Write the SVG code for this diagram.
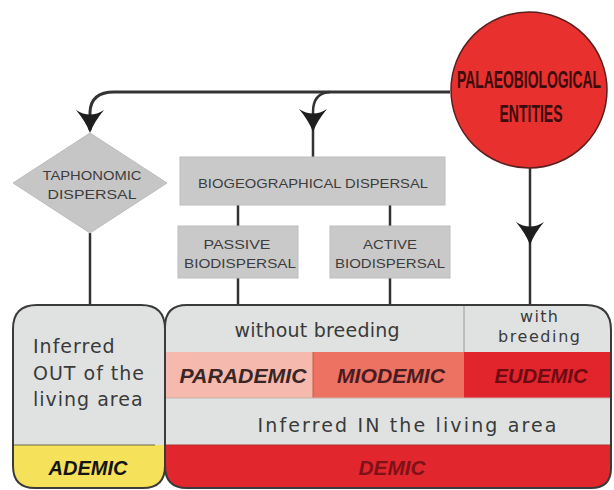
<svg xmlns="http://www.w3.org/2000/svg" width="614" height="490" viewBox="0 0 614 490">
<defs>
<path id="ah" d="M0,0 Q-4,-11 -14,-23 Q0,-14 14,-23 Q4,-11 0,0 Z" fill="#1e1e1e"/>
<clipPath id="clipL"><path d="M13,329 Q13,305 37,305 L141,305 Q165,305 165,329 L165,466 Q165,488 143,488 L35,488 Q13,488 13,466 Z"/></clipPath>
<clipPath id="clipR"><path d="M165,327 Q165,305 187,305 L586,305 Q611,305 611,330 L611,468 Q611,488 591,488 L187,488 Q165,488 165,466 Z"/></clipPath>
</defs>
<style>
.ln{stroke:#333;stroke-width:2.5;fill:none}
.gbox{fill:#c9c9c9;stroke:#bdbdbd;stroke-width:1}
.sm{font-family:"Liberation Sans",Arial,sans-serif;font-size:13px;fill:#3d3d3d;text-anchor:middle}
.bd{font-family:"DejaVu Sans","Liberation Sans",sans-serif;font-size:19px;fill:#3a3a3a}
.bi{font-family:"Liberation Sans",Arial,sans-serif;font-size:20px;font-weight:bold;font-style:italic;text-anchor:middle}
.sep{stroke:#9a9a9a;stroke-width:1}
</style>
<rect width="614" height="490" fill="#ffffff"/>

<g id="connectors">
<path class="ln" d="M450,92 L114,92 Q91,92 90,112 L90,130" style="stroke-width:3"/>
<path class="ln" d="M330,92 Q313,93 313,112 L313,157"/>
<path class="ln" d="M530,167 L530,305"/>
<path class="ln" d="M238,205 L238,226"/>
<path class="ln" d="M390,205 L390,226"/>
<path class="ln" d="M238,278 L238,305"/>
<path class="ln" d="M390,278 L390,305"/>
<path class="ln" d="M90,233 L90,305"/>
<use href="#ah" x="90" y="133"/>
<use href="#ah" x="313" y="132"/>
<use href="#ah" x="530" y="245"/>
</g>

<g id="palaeobiological">
<circle cx="529" cy="90" r="78" fill="#e8302f" stroke="#5a2020" stroke-width="1.5"/>
<text x="529" y="88" font-family="'Liberation Sans',Arial,sans-serif" font-size="23" font-weight="bold" fill="#3a0c0c" text-anchor="middle" textLength="144" lengthAdjust="spacingAndGlyphs">PALAEOBIOLOGICAL</text>
<text x="531" y="122" font-family="'Liberation Sans',Arial,sans-serif" font-size="24" font-weight="bold" fill="#3a0c0c" text-anchor="middle" textLength="63" lengthAdjust="spacingAndGlyphs">ENTITIES</text>
</g>

<g id="taphonomic">
<polygon points="90,133 167,183 90,233 13,183" fill="#c6c6c6" stroke="#bdbdbd"/>
<text class="sm" x="92" y="180" textLength="99" lengthAdjust="spacingAndGlyphs">TAPHONOMIC</text>
<text class="sm" x="92" y="199" textLength="89" lengthAdjust="spacingAndGlyphs">DISPERSAL</text>
</g>

<g id="biogeographical">
<rect class="gbox" x="180" y="157" width="265" height="48"/>
<text class="sm" x="313" y="188" textLength="230" lengthAdjust="spacingAndGlyphs">BIOGEOGRAPHICAL  DISPERSAL</text>
</g>

<g id="passive">
<rect class="gbox" x="178" y="226" width="120" height="52"/>
<text class="sm" x="237" y="249" textLength="67" lengthAdjust="spacingAndGlyphs">PASSIVE</text>
<text class="sm" x="240" y="268" textLength="112" lengthAdjust="spacingAndGlyphs">BIODISPERSAL</text>
</g>

<g id="active">
<rect class="gbox" x="330" y="226" width="120" height="52"/>
<text class="sm" x="390" y="249" textLength="54" lengthAdjust="spacingAndGlyphs">ACTIVE</text>
<text class="sm" x="390" y="268" textLength="110" lengthAdjust="spacingAndGlyphs">BIODISPERSAL</text>
</g>

<g id="out-area">
<g clip-path="url(#clipL)">
<rect x="13" y="305" width="152" height="183" fill="#dfe2e0"/>
<rect x="13" y="445" width="152" height="43" fill="#f6e15a"/>
<line x1="13" y1="445" x2="155" y2="445" stroke="#6b6a4a" stroke-width="1.2"/>
</g>
<path d="M13,329 Q13,305 37,305 L141,305 Q165,305 165,329 L165,466 Q165,488 143,488 L35,488 Q13,488 13,466 Z" fill="none" stroke="#3a3a3a" stroke-width="2"/>
<text class="bd" x="33" y="353" letter-spacing="1">Inferred</text>
<text class="bd" x="33" y="380" letter-spacing="1">OUT of the</text>
<text class="bd" x="33" y="406" letter-spacing="1">living area</text>
<text class="bi" x="88" y="475" fill="#141414">ADEMIC</text>
</g>

<g id="in-area">
<g clip-path="url(#clipR)">
<rect x="165" y="305" width="446" height="183" fill="#dfe2e0"/>
<rect x="165" y="352" width="148" height="46" fill="#f6b9ad"/>
<rect x="313" y="352" width="151" height="46" fill="#ee7262"/>
<rect x="464" y="352" width="147" height="46" fill="#e2252c"/>
<rect x="165" y="445" width="446" height="43" fill="#e2262d"/>
<line x1="464" y1="305" x2="464" y2="352" class="sep"/>
<line x1="313" y1="352" x2="313" y2="398" stroke="#c45a50" stroke-width="1"/>
<line x1="165" y1="398" x2="611" y2="398" stroke="#c8b0aa" stroke-width="1"/>
<line x1="165" y1="445" x2="611" y2="445" stroke="#b03030" stroke-width="1"/>
</g>
<path d="M165,327 Q165,305 187,305 L586,305 Q611,305 611,330 L611,468 Q611,488 591,488 L187,488 Q165,488 165,466 Z" fill="none" stroke="#3a3a3a" stroke-width="2"/>
<text class="bd" x="317" y="337" text-anchor="middle" textLength="165" lengthAdjust="spacing">without  breeding</text>
<text class="bd" x="539" y="322" text-anchor="middle" style="font-size:16px" textLength="38" lengthAdjust="spacing">with</text>
<text class="bd" x="539" y="342" text-anchor="middle" style="font-size:16px" textLength="82" lengthAdjust="spacing">breeding</text>
<text class="bi" x="243" y="383" fill="#3a2626" textLength="127" lengthAdjust="spacingAndGlyphs">PARADEMIC</text>
<text class="bi" x="391" y="383" fill="#4a1c22" textLength="108" lengthAdjust="spacingAndGlyphs">MIODEMIC</text>
<text class="bi" x="541" y="383" fill="#6e0a12" textLength="93" lengthAdjust="spacingAndGlyphs">EUDEMIC</text>
<text class="bd" x="407" y="432" text-anchor="middle" textLength="299" lengthAdjust="spacing">Inferred IN the living area</text>
<text class="bi" x="392" y="475" fill="#7e1218" textLength="67" lengthAdjust="spacingAndGlyphs">DEMIC</text>
</g>
</svg>
